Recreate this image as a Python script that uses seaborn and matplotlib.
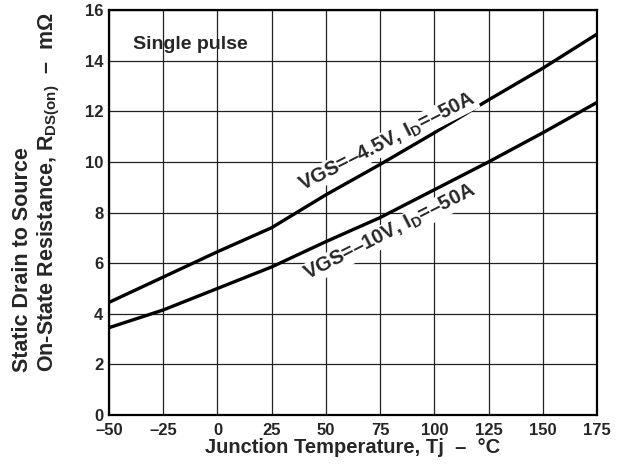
import pandas as pd
import matplotlib
matplotlib.use("Agg")
import matplotlib.pyplot as plt
import seaborn as sns

# --- data ---
temp = [-50, -25, 0, 25, 50, 75, 100, 125, 150, 175]
rds_4v5 = [4.45, 5.45, 6.45, 7.4, 8.7, 9.9, 11.15, 12.45, 13.7, 15.05]
rds_10v = [3.45, 4.15, 5.0, 5.85, 6.85, 7.8, 8.9, 10.0, 11.15, 12.35]

x_ticks = [-50, -25, 0, 25, 50, 75, 100, 125, 150, 175]
x_tick_labels = ["\u201350", "\u201325", "0", "25", "50", "75", "100", "125", "150", "175"]
y_ticks = [0, 2, 4, 6, 8, 10, 12, 14, 16]

sns.set_theme(style="white")
plt.rcParams["font.family"] = ["Liberation Sans", "DejaVu Sans"]
plt.rcParams["font.weight"] = "bold"
plt.rcParams["mathtext.fontset"] = "custom"
plt.rcParams["mathtext.rm"] = "Liberation Sans:bold"
plt.rcParams["mathtext.it"] = "Liberation Sans:bold"
plt.rcParams["mathtext.bf"] = "Liberation Sans:bold"
plt.rcParams["mathtext.default"] = "rm"

df = pd.DataFrame({"temp": temp, "4.5V": rds_4v5, "10V": rds_10v})

fig = plt.figure(figsize=(6.21, 4.68), dpi=100)
ax = fig.add_axes([0.1755, 0.1132, 0.7859, 0.8654])

sns.lineplot(data=df, x="temp", y="4.5V", ax=ax, color="black", linewidth=2.4)
sns.lineplot(data=df, x="temp", y="10V", ax=ax, color="black", linewidth=2.4)

ax.set_xlim(-50, 175)
ax.set_ylim(0, 16)
ax.set_xticks(x_ticks)
ax.set_xticklabels(x_tick_labels)
ax.set_yticks(y_ticks)
ax.tick_params(axis="both", labelsize=12, length=0)
ax.tick_params(axis="x", pad=6)
ax.tick_params(axis="y", pad=4)
for lbl in ax.get_xticklabels() + ax.get_yticklabels():
    lbl.set_fontweight("bold")

ax.grid(True, color="#222222", linewidth=0.9)
for sp in ax.spines.values():
    sp.set_color("black")
    sp.set_linewidth(1.6)

ax.set_xlabel("Junction Temperature, Tj  \u2013  \u00b0C", fontsize=14.5, fontweight="bold", labelpad=0)
ax.set_ylabel("Static Drain to Source\nOn-State Resistance, R$_{\\mathrm{DS(on)}}$  \u2013  m\u03a9",
              fontsize=15.5, fontweight="bold", linespacing=1.15, multialignment="left")
ax.yaxis.set_label_coords(-0.096, 0.55)

ax.text(-39, 14.65, "Single pulse", fontsize=14, fontweight="bold", va="center", ha="left")

box = dict(facecolor="white", edgecolor="none", pad=0.5)
ax.text(78.5, 10.8, "VGS=\u20134.5V, I$_{\\mathrm{D}}$=\u201350A", fontsize=14.5, fontweight="bold",
        rotation=27, rotation_mode="anchor", ha="center", va="center", bbox=box)
ax.text(79.5, 7.2, "VGS=\u201310V, I$_{\\mathrm{D}}$=\u201350A", fontsize=14.5, fontweight="bold",
        rotation=27, rotation_mode="anchor", ha="center", va="center", bbox=box)

plt.savefig("out.png", dpi=100)
